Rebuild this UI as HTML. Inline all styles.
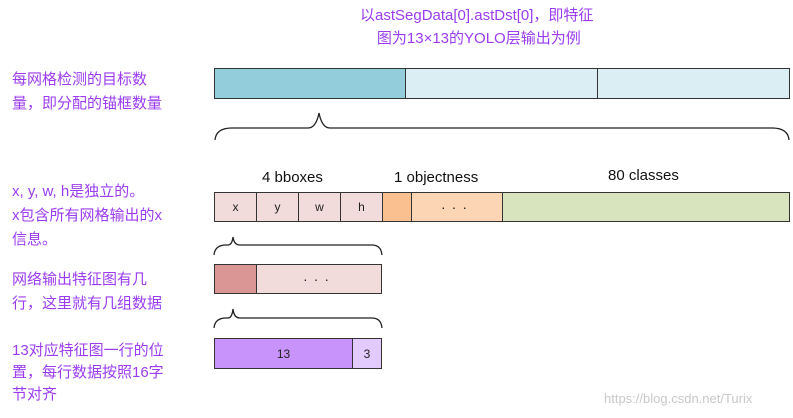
<!DOCTYPE html>
<html><head><meta charset="utf-8"><style>
body{margin:0;width:793px;height:418px;background:#fff;position:relative;overflow:hidden;font-family:"Liberation Sans","Noto Sans CJK SC",sans-serif}
.b{position:absolute;box-sizing:border-box;border:1.5px solid #333;font-size:12px;color:#222;display:flex;align-items:center;justify-content:center}
.t{position:absolute;color:#9b3cf0;font-size:15px;line-height:24px;font-family:"Liberation Sans","WenQuanYi Zen Hei",sans-serif;white-space:nowrap}
.l{position:absolute;font-size:15px;color:#111;white-space:nowrap}
</style></head><body>
<div class="t" style="left:360px;top:4px;text-align:center;line-height:23px">以astSegData[0].astDst[0]，即特征<br>&nbsp;图为13×13的YOLO层输出为例</div>
<div class="t" style="left:12px;top:68px">每网格检测的目标数<br>量，即分配的锚框数量</div>
<div class="t" style="left:12px;top:180px">x, y, w, h是独立的。<br>x包含所有网格输出的x<br>信息。</div>
<div class="t" style="left:12px;top:268px">网络输出特征图有几<br>行，这里就有几组数据</div>
<div class="t" style="left:12px;top:340px;line-height:22px">13对应特征图一行的位<br>置，每行数据按照16字<br>节对齐</div>

<div class="b" style="left:214px;top:68px;width:193px;height:31px;background:#93cddb"></div>
<div class="b" style="left:405px;top:68px;width:194px;height:31px;background:#dbeef3"></div>
<div class="b" style="left:597px;top:68px;width:193px;height:31px;background:#dbeef3"></div>

<div class="l" style="left:262px;top:169px">4 bboxes</div>
<div class="l" style="left:394px;top:169px">1 objectness</div>
<div class="l" style="left:608px;top:167px">80 classes</div>

<div class="b" style="left:214px;top:192px;width:43px;height:30px;background:#f2dcdb">x</div>
<div class="b" style="left:256px;top:192px;width:43px;height:30px;background:#f2dcdb">y</div>
<div class="b" style="left:298px;top:192px;width:43px;height:30px;background:#f2dcdb">w</div>
<div class="b" style="left:340px;top:192px;width:43px;height:30px;background:#f2dcdb">h</div>
<div class="b" style="left:382px;top:192px;width:30px;height:30px;background:#fac090"></div>
<div class="b" style="left:411px;top:192px;width:92px;height:30px;background:#fcd5b5;font-size:14px;letter-spacing:6px">···</div>
<div class="b" style="left:502px;top:192px;width:288px;height:30px;background:#d7e4bd"></div>

<div class="b" style="left:214px;top:264px;width:43px;height:30px;background:#d99694"></div>
<div class="b" style="left:256px;top:264px;width:126px;height:30px;background:#f2dcdb;font-size:14px;letter-spacing:6px">···</div>

<div class="b" style="left:214px;top:338px;width:139px;height:31px;background:#c894fc">13</div>
<div class="b" style="left:352px;top:338px;width:30px;height:31px;background:#e4cbff">3</div>

<svg width="793" height="418" style="position:absolute;left:0;top:0" fill="none" stroke="#222" stroke-width="1.3">
<path d="M215,140 Q216,128 232,128 L308,128 Q316,128 319,113 Q322,128 330,128 L772,128 Q788,128 789,140"/>
<path d="M214,255 Q215,245 226,245 L228,245 Q232,245 233,237 Q234,245 240,245 L372,245 Q381,245 382,255"/>
<path d="M214,328 Q215,318 226,318 L228,318 Q232,318 233,309 Q234,318 240,318 L372,318 Q381,318 382,328"/>
</svg>
<div style="position:absolute;left:604px;top:391px;font-size:13px;color:#c8c8c8">https://blog.csdn.net/Turix</div>
</body></html>
